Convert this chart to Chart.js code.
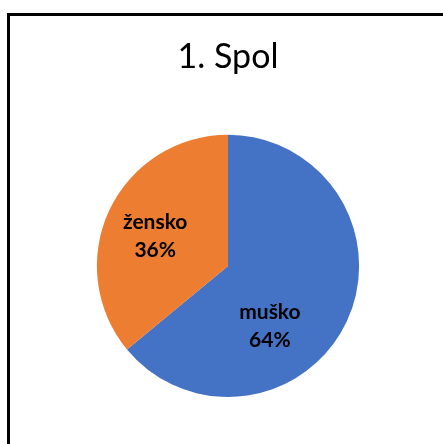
<!DOCTYPE html>
<html>
<head>
<meta charset="utf-8">
<script src="https://cdn.jsdelivr.net/npm/chart.js@4"></script>
<style>
  html, body { margin: 0; padding: 0; background: #fff; }
  #wrap { position: relative; width: 443px; height: 444px; overflow: hidden; }
  #frame { position: absolute; left: 7px; top: 13px; width: 460px; height: 460px;
           border-left: 3px solid #000; border-top: 3px solid #000; box-sizing: border-box; }
  #myChart { position: absolute; left: 0; top: 0; }
</style>
</head>
<body>
<div id="wrap">
  <div id="frame"></div>
  <canvas id="myChart" width="443" height="444"></canvas>
</div>
<script>
const titleText = '1. Spol'
const labels = ['muško', 'žensko']
const values = [64, 36]
const colors = ['#4472C4', '#ED7D31']
// where each label sits: fraction of radius and turn from the slice middle (degrees)
const labelSpots = [
  { r: 0.56, turn: 30 },
  { r: 0.6, turn: -3 }
]

const sliceLabels = {
  id: 'sliceLabels',
  afterDatasetsDraw(chart) {
    const c = chart.ctx
    const meta = chart.getDatasetMeta(0)
    const total = values.reduce((a, b) => a + b, 0)
    c.save()
    c.font = 'bold 21px Lato'
    c.fillStyle = '#000'
    c.textAlign = 'center'
    c.textBaseline = 'middle'
    meta.data.forEach((arc, i) => {
      const p = arc.getProps(['x', 'y', 'startAngle', 'endAngle', 'outerRadius'], true)
      const mid = (p.startAngle + p.endAngle) / 2 + labelSpots[i].turn * Math.PI / 180
      const d = p.outerRadius * labelSpots[i].r
      const x = p.x + Math.cos(mid) * d
      const y = p.y + Math.sin(mid) * d
      c.fillText(labels[i], x, y - 14)
      c.fillText(Math.round(values[i] / total * 100) + '%', x, y + 14)
    })
    c.restore()
  }
}

const ctx = document.getElementById('myChart')

new Chart(ctx, {
  type: 'pie',
  data: {
    labels: labels,
    datasets: [{
      data: values,
      backgroundColor: colors,
      borderWidth: 0
    }]
  },
  options: {
    responsive: false,
    animation: false,
    layout: { padding: { left: 13, right: 0, top: 0, bottom: 47 } },
    plugins: {
      legend: { display: false },
      tooltip: { enabled: false },
      title: {
        display: true,
        text: titleText,
        color: '#000',
        font: { family: 'Lato', size: 34, weight: 'normal' },
        padding: { top: 37, bottom: 57 }
      }
    }
  },
  plugins: [sliceLabels]
});
</script>
</body>
</html>
